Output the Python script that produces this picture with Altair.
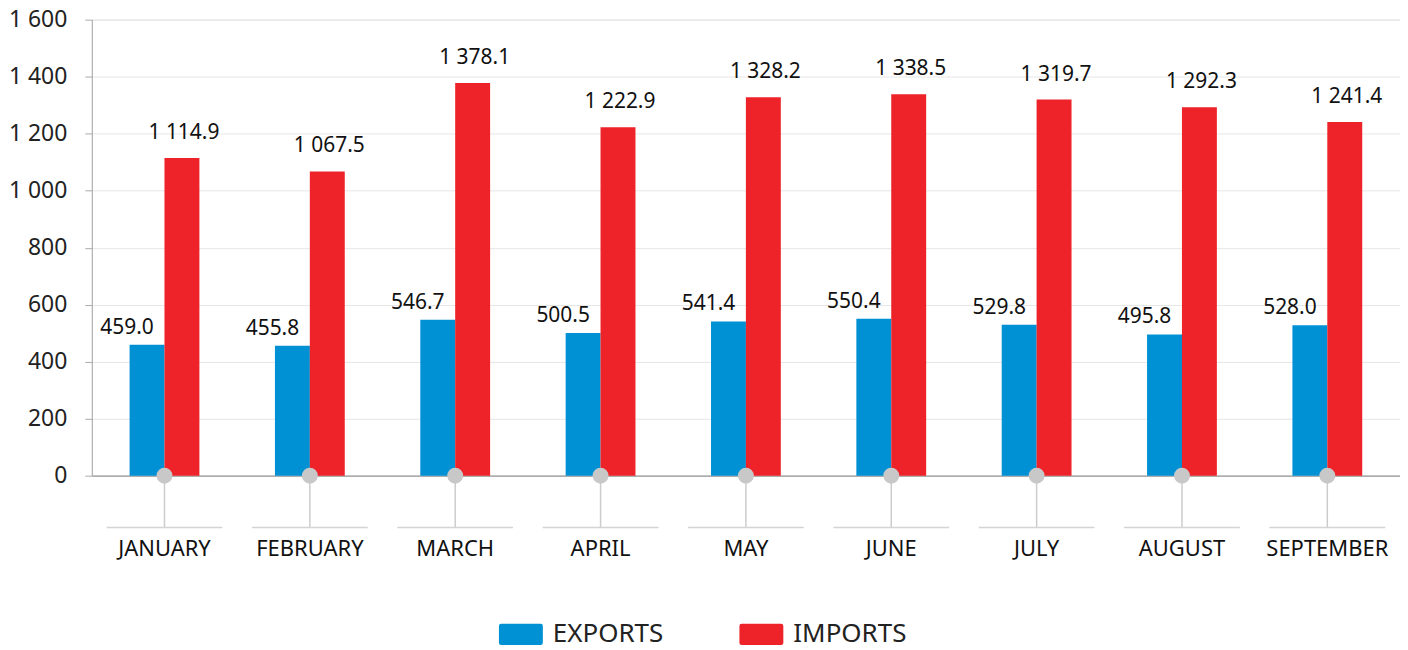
import altair as alt
import pandas as pd

months = ["JANUARY", "FEBRUARY", "MARCH", "APRIL", "MAY", "JUNE", "JULY", "AUGUST", "SEPTEMBER"]
exports = [459.0, 455.8, 546.7, 500.5, 541.4, 550.4, 529.8, 495.8, 528.0]
imports = [1114.9, 1067.5, 1378.1, 1222.9, 1328.2, 1338.5, 1319.7, 1292.3, 1241.4]
series_names = ["EXPORTS", "IMPORTS"]
colors = ["#0091D5", "#EE2229"]


def fmt(v):
    return f"{v:,.1f}".replace(",", " ")


rows = []
for m, e, i in zip(months, exports, imports):
    rows.append({"month": m, "series": "EXPORTS", "value": e, "label": fmt(e)})
    rows.append({"month": m, "series": "IMPORTS", "value": i, "label": fmt(i)})
df = pd.DataFrame(rows)
mdf = pd.DataFrame({"month": months})

FONT = "Noto Sans"
W, H = 1311, 457

x_enc = alt.X(
    "month:N",
    sort=months,
    title=None,
    scale=alt.Scale(paddingInner=0.52, paddingOuter=0.26),
    axis=alt.Axis(
        labelAngle=0,
        ticks=False,
        domain=True,
        domainColor="#9a9a9a",
        domainWidth=1.2,
        labelPadding=63,
        labelFontSize=22,
        labelFont=FONT,
        labelColor="#111111",
        grid=False,
    ),
)

y_enc = alt.Y(
    "value:Q",
    title=None,
    scale=alt.Scale(domain=[0, 1600]),
    axis=alt.Axis(
        values=[0, 200, 400, 600, 800, 1000, 1200, 1400, 1600],
        labelExpr="replace(format(datum.value, ','), ',', ' ')",
        labelFontSize=23,
        labelFont=FONT,
        labelColor="#222222",
        labelPadding=18,
        tickSize=7,
        tickColor="#aaaaaa",
        domainColor="#aaaaaa",
        gridColor="#e6e6e6",
        gridWidth=1,
    ),
)

color_enc = alt.Color(
    "series:N",
    scale=alt.Scale(domain=series_names, range=colors),
    title=None,
    legend=alt.Legend(
        orient="none",
        legendX=408,
        legendY=594,
        direction="horizontal",
        symbolType="M-0.9,-0.48 H0.9 Q1,-0.48 1,-0.38 V0.38 Q1,0.48 0.9,0.48 H-0.9 Q-1,0.48 -1,0.38 V-0.38 Q-1,-0.48 -0.9,-0.48 Z",
        symbolSize=1936,
        symbolStrokeWidth=0,
        symbolOpacity=1,
        labelFontSize=26,
        labelFont=FONT,
        labelColor="#222222",
        columnPadding=76,
        labelOffset=10,
        padding=0,
    ),
)

bars = alt.Chart(df).mark_bar(size=35).encode(
    x=x_enc,
    xOffset=alt.XOffset("series:N", sort=series_names, scale=alt.Scale(paddingInner=0, paddingOuter=0)),
    y=y_enc,
    color=color_enc,
)

exp_text = alt.Chart(df).transform_filter(alt.datum.series == "EXPORTS").mark_text(
    baseline="alphabetic", dx=-20, dy=-11, fontSize=21, font=FONT, color="#111111"
).encode(
    x=alt.X("month:N", sort=months),
    xOffset=alt.XOffset("series:N", sort=series_names),
    y="value:Q",
    text="label:N",
)

imp_text = alt.Chart(df).transform_filter(alt.datum.series == "IMPORTS").mark_text(
    baseline="alphabetic", dx=2, dy=-19, fontSize=21, font=FONT, color="#111111"
).encode(
    x=alt.X("month:N", sort=months),
    xOffset=alt.XOffset("series:N", sort=series_names),
    y="value:Q",
    text="label:N",
)

stems = alt.Chart(mdf).mark_rule(color="#cccccc", strokeWidth=1.5).encode(
    x=alt.X("month:N", sort=months),
    y=alt.datum(0),
    y2=alt.value(H + 52),
)

hsegs = alt.Chart(mdf).mark_tick(orient="horizontal", size=116, thickness=1.5, color="#d4d4d4", opacity=1).encode(
    x=alt.X("month:N", sort=months),
    y=alt.value(H + 52),
)

dots = alt.Chart(mdf).mark_circle(size=254, color="#c8c8c8", opacity=1).encode(
    x=alt.X("month:N", sort=months),
    y=alt.datum(0),
)

chart = alt.layer(bars, exp_text, imp_text, stems, hsegs, dots).properties(
    width=W, height=H, padding={"left": 0, "top": 0, "right": 0, "bottom": 6}
).configure_view(stroke=None).configure(font=FONT)

chart.save("out.html", embed_options={"renderer": "svg", "actions": False})
